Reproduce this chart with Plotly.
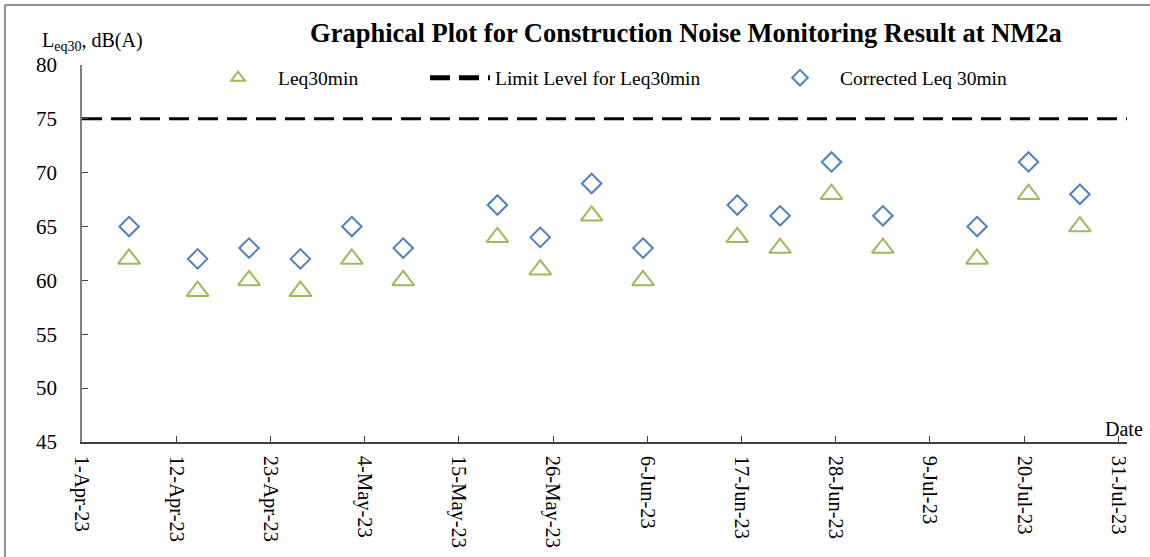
import plotly.graph_objects as go

dates = ["2023-04-06 12:00", "2023-04-14 12:00", "2023-04-20 12:00", "2023-04-26 12:00",
         "2023-05-02 12:00", "2023-05-08 12:00", "2023-05-19 12:00", "2023-05-24 12:00",
         "2023-05-30 12:00", "2023-06-05 12:00", "2023-06-16 12:00", "2023-06-21 12:00",
         "2023-06-27 12:00", "2023-07-03 12:00", "2023-07-14 12:00", "2023-07-20 12:00",
         "2023-07-26 12:00"]
leq30 = [62, 59, 60, 59, 62, 60, 64, 61, 66, 60, 64, 63, 68, 63, 62, 68, 65]
corrected = [65, 62, 63, 62, 65, 63, 67, 64, 69, 63, 67, 66, 71, 66, 65, 71, 68]
limit_dates = ["2023-04-01", "2023-08-01"]
limit_level = [75, 75]

SERIF = "Liberation Serif, Times New Roman, serif"
GREEN = "#9BBB59"
BLUE = "#4F81BD"

fig = go.Figure()
fig.add_trace(go.Scatter(
    x=dates, y=leq30, mode="markers", name="Leq30min",
    marker=dict(symbol="triangle-up-open", size=19, color=GREEN, line=dict(width=2, color=GREEN)),
    legend="legend", cliponaxis=False))
fig.add_trace(go.Scatter(
    x=limit_dates, y=limit_level, mode="lines", name="Limit Level for Leq30min",
    line=dict(color="black", width=3, dash="20px,9px"), legend="legend2"))
fig.add_trace(go.Scatter(
    x=dates, y=corrected, mode="markers", name="Corrected Leq 30min",
    marker=dict(symbol="diamond-open", size=15, color=BLUE, line=dict(width=2, color=BLUE)),
    legend="legend3", cliponaxis=False))

W, H = 1150, 557
L, R, T, B = 82, 23, 65, 115
pw, ph = W - L - R, H - T - B

def px(x):
    return (x - L) / pw

def py(y):
    return (H - B - y) / ph

leg_common = dict(orientation="h", bgcolor="rgba(0,0,0,0)", font=dict(family=SERIF, size=19.5, color="black"),
                  xanchor="left", yanchor="middle", itemsizing="constant")

fig.update_layout(
    width=W, height=H,
    margin=dict(l=L, r=R, t=T, b=B, autoexpand=False),
    paper_bgcolor="white", plot_bgcolor="white",
    font=dict(family=SERIF, color="black"),
    title=dict(text="<b>Graphical Plot for Construction Noise Monitoring Result at NM2a</b>",
               x=px(686), xref="paper", xanchor="center", y=1 - 33 / H, yanchor="middle",
               font=dict(family=SERIF, size=26.5, color="black")),
    showlegend=True,
    legend=dict(x=px(198), y=py(78), itemwidth=70, **leg_common),
    legend2=dict(x=px(425), y=py(78), itemwidth=60, **leg_common),
    legend3=dict(x=px(760), y=py(78), itemwidth=70, **leg_common),
    xaxis=dict(
        type="date", range=["2023-04-01", "2023-08-01"], automargin=False,
        tick0="2023-04-01", dtick=11 * 86400000, tickformat="%-d-%b-%y",
        tickangle=90, ticks="inside", ticklen=6, tickcolor="#404040",
        showline=True, linecolor="#404040", linewidth=1.5, showgrid=False, zeroline=False,
        tickfont=dict(family=SERIF, size=20.5, color="black"), ticklabelstandoff=8,
    ),
    yaxis=dict(
        range=[45, 80], dtick=5, ticks="inside", ticklen=6, tickcolor="#404040", automargin=False,
        showline=True, linecolor="#808080", linewidth=1.5, showgrid=False, zeroline=False,
        tickfont=dict(family=SERIF, size=21, color="black"), ticklabelstandoff=19,
    ),
    annotations=[
        dict(text="L<sub>eq30</sub>, dB(A)", xref="paper", yref="paper", x=px(40), y=py(42),
             xanchor="left", yanchor="middle", showarrow=False, font=dict(family=SERIF, size=20)),
        dict(text="Date", xref="paper", yref="paper", x=px(1103), y=py(429),
             xanchor="left", yanchor="middle", showarrow=False, font=dict(family=SERIF, size=20)),
    ],
    shapes=[
        dict(type="line", xref="paper", yref="paper", x0=px(5), x1=px(1152), y0=py(5), y1=py(5),
             line=dict(color="#6f6f6f", width=1.5)),
        dict(type="line", xref="paper", yref="paper", x0=px(5), x1=px(5), y0=py(5), y1=py(560),
             line=dict(color="#6f6f6f", width=1.5)),
    ],
)

fig.write_html("out.html", config={"displayModeBar": False},
               post_script="document.body.style.margin='0';")
